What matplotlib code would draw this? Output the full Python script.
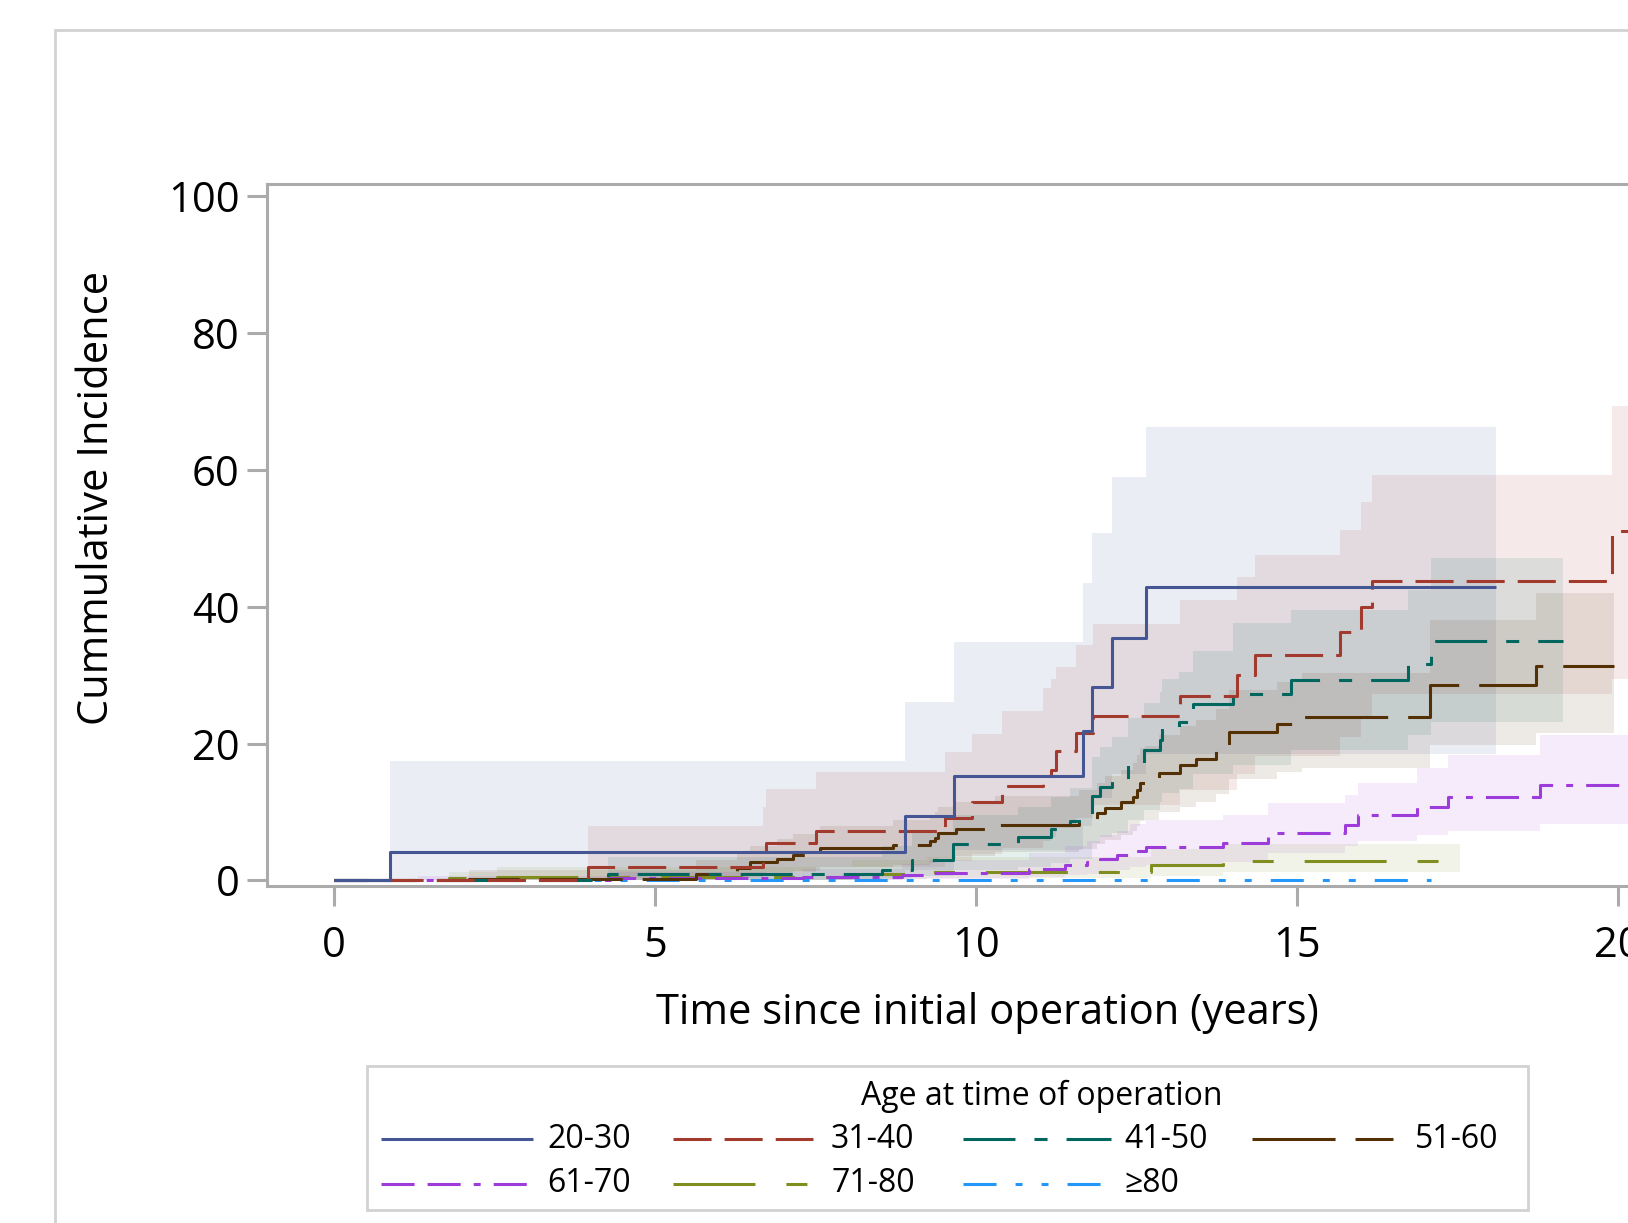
import numpy as np
import matplotlib
matplotlib.use("Agg")
import matplotlib.pyplot as plt
from matplotlib.lines import Line2D
from matplotlib.patches import Rectangle

W, H, DPI = 1628, 1223, 100

plt.rcParams["font.family"] = ["Open Sans", "DejaVu Sans"]
plt.rcParams["lines.scale_dashes"] = False

# ── data (years, cumulative incidence %) ─────────────────────────────────────
t_2030 = [0, 0.87, 8.89, 9.66, 11.66, 11.80, 12.11, 12.65]
v_2030 = [0, 4.1, 9.4, 15.3, 21.9, 28.3, 35.5, 42.9]
hi_2030 = [0, 17.5, 26.1, 34.9, 43.4, 50.8, 58.9, 66.2]
lo_2030 = [0, 0.1, 1.5, 4.5, 8.0, 12.0, 15.5, 18.5]
end_2030 = 18.09

t_3140 = [0, 3.95, 6.68, 6.73, 7.51, 9.51, 9.94, 10.40, 11.04, 11.17, 11.24,
          11.56, 11.82, 13.17, 14.06, 14.34, 15.67, 16.00, 16.17, 19.90]
v_3140 = [0, 1.9, 3.2, 5.5, 7.3, 9.2, 11.4, 13.8, 15.3, 16.2, 18.9,
          21.5, 24.1, 27.0, 30.0, 33.0, 36.3, 40.0, 43.7, 51.1]
hi_3140 = [0, 8.0, 10.8, 13.3, 15.9, 18.7, 21.4, 24.7, 28.1, 29.5, 31.2,
           34.4, 37.5, 41.0, 44.4, 47.6, 51.2, 55.3, 59.2, 69.3]
lo_3140 = [0, 0.3, 0.8, 1.2, 2.0, 2.8, 3.8, 4.8, 5.8, 6.4, 7.6,
           9.2, 11.0, 13.2, 15.6, 18.2, 21.0, 24.0, 27.3, 29.4]
end_3140 = 21.5

t_4150 = [0, 4.27, 8.54, 9.00, 9.64, 10.65, 11.17, 11.46, 11.80, 11.93, 12.12,
          12.36, 12.61, 12.86, 12.90, 13.16, 13.37, 14.00, 14.91, 16.72, 17.09]
v_4150 = [0, 0.9, 1.6, 3.0, 5.3, 6.4, 7.5, 8.7, 12.35, 13.6, 14.7,
          17.1, 19.0, 20.5, 22.4, 23.1, 25.8, 27.3, 29.3, 31.6, 35.0]
hi_4150 = [0, 3.5, 5.0, 7.0, 9.5, 10.8, 12.2, 13.5, 18.0, 19.5, 21.0,
           23.8, 26.0, 27.5, 29.5, 30.5, 33.5, 37.6, 39.5, 42.5, 47.1]
lo_4150 = [0, 0.1, 0.3, 0.7, 1.5, 2.0, 2.6, 3.2, 5.5, 6.3, 7.0,
           8.8, 10.3, 11.4, 12.8, 13.4, 15.5, 16.8, 19.1, 21.3, 23.2]
end_4150 = 19.14

t_5160 = [0, 2.10, 5.64, 6.27, 6.47, 6.90, 7.15, 7.56, 8.71, 9.28, 9.36, 9.41,
          9.69, 10.30, 11.60, 11.88, 12.00, 12.26, 12.45, 12.51, 12.55, 12.63,
          12.84, 13.17, 13.43, 13.74, 13.93, 14.68, 15.07, 17.07, 18.72]
v_5160 = [0, 0.2, 1.0, 1.8, 2.75, 3.2, 3.7, 4.7, 5.2, 5.7, 6.2, 6.9,
          7.5, 8.1, 8.9, 9.8, 10.55, 11.4, 12.25, 13.2, 14.2, 14.4,
          15.75, 16.8, 17.7, 19.1, 21.75, 22.9, 23.9, 28.6, 31.4]
hi_5160 = [0, 1.5, 3.0, 4.0, 5.0, 6.0, 6.8, 8.0, 8.8, 9.5, 10.0, 10.8,
           11.5, 12.3, 13.2, 14.3, 15.2, 16.2, 17.2, 18.3, 19.3, 19.6,
           21.2, 22.5, 23.5, 25.0, 27.8, 29.0, 30.3, 38.1, 42.0]
lo_5160 = [0, 0, 0.2, 0.5, 0.9, 1.1, 1.4, 2.0, 2.3, 2.6, 2.9, 3.3,
           3.6, 4.1, 4.6, 5.3, 5.9, 6.6, 7.3, 8.0, 8.7, 8.9,
           10.0, 10.8, 11.5, 12.7, 14.8, 15.8, 16.5, 19.8, 21.6]
end_5160 = 19.94

t_6170 = [0, 1.30, 4.30, 7.30, 8.84, 9.27, 10.82, 11.38, 11.72, 11.93, 12.19,
          12.39, 12.65, 13.85, 14.55, 15.74, 15.95, 16.86, 17.35, 18.78]
v_6170 = [0, 0.1, 0.3, 0.5, 0.8, 1.15, 1.7, 2.27, 2.65, 3.2, 3.7,
          4.35, 4.85, 5.5, 7.0, 8.1, 9.6, 10.8, 12.2, 13.95]
hi_6170 = [0, 0.6, 1.2, 1.7, 2.4, 3.0, 4.0, 5.0, 5.8, 6.6, 7.3,
           8.2, 8.9, 9.6, 11.3, 12.5, 14.3, 16.4, 18.3, 21.3]
lo_6170 = [0, 0, 0, 0.05, 0.15, 0.25, 0.5, 0.8, 1.0, 1.3, 1.6,
           2.0, 2.3, 2.7, 4.0, 5.0, 5.7, 6.6, 7.3, 8.3]
end_6170 = 21.5

t_7180 = [0, 1.79, 2.54, 8.06, 9.23, 12.73, 13.85]
v_7180 = [0, 0.3, 0.55, 1.0, 1.3, 2.3, 2.8]
hi_7180 = [0, 1.3, 2.0, 3.0, 3.4, 4.6, 5.4]
lo_7180 = [0, 0, 0.05, 0.2, 0.3, 0.7, 1.3]
end_7180 = 17.53

t_80 = [0]
v_80 = [0]
end_80 = 17.09

x_ticks = [0, 5, 10, 15, 20]
y_ticks = [0, 20, 40, 60, 80, 100]

# ── styles (SAS HTMLBlue palette, dash lengths in points) ─────────────────────
SERIES = [
    ("20-30", t_2030, v_2030, lo_2030, hi_2030, end_2030, "#445694", None),
    ("31-40", t_3140, v_3140, lo_3140, hi_3140, end_3140, "#A23A2E", (27.4, 9.4)),
    ("41-50", t_4150, v_4150, lo_4150, hi_4150, end_4150, "#01665E", (37.4, 13.7, 9.4, 13.7)),
    ("51-60", t_5160, v_5160, lo_5160, hi_5160, end_5160, "#543005", (59.8, 14.4)),
    ("61-70", t_6170, v_6170, lo_6170, hi_6170, end_6170, "#9D3CDB", (23.8, 9.4, 23.8, 9.4, 5.0, 9.4)),
    ("71-80", t_7180, v_7180, lo_7180, hi_7180, end_7180, "#7F8E1F", (59.0, 22.3, 15.1, 22.3)),
    ("\u226580", t_80, v_80, None, None, end_80, "#2597FA", (23.8, 13.7, 5.0, 13.7, 5.0, 13.7)),
]
LW = 2.2
AXIS_GRAY = "#ababab"
FRAME_GRAY = "#d2d2d2"
FS_AXIS = 30
FS_LEGEND = 23


def fx(px):
    return px / W


def fy(py):
    return 1 - py / H


def line_kw(color, dash):
    kw = dict(color=color, lw=LW, solid_capstyle="butt", dash_capstyle="butt")
    if dash is not None:
        kw["dashes"] = dash
    return kw


fig = plt.figure(figsize=(W / DPI, H / DPI), dpi=DPI)

# outer graph border (runs off the right and bottom edges)
fig.add_artist(Rectangle((fx(55), fy(1400)), fx(1900 - 55), fy(30) - fy(1400),
                         transform=fig.transFigure, fill=False,
                         ec=FRAME_GRAY, lw=2.0))

ax = fig.add_axes([fx(266.8), fy(885.6), (1714.5 - 266.8) / W, (885.6 - 183.8) / H])
ax.set_xlim(-1.05, 21.5)
ax.set_ylim(-0.75, 101.8)

# confidence bands first, then the step curves on top
for name, t, v, lo, hi, end, color, dash in SERIES:
    if lo is None:
        continue
    xs = np.append(t, end)
    ax.fill_between(xs, np.append(lo, lo[-1]), np.append(hi, hi[-1]),
                    step="post", color=color, alpha=0.1, lw=0)

for name, t, v, lo, hi, end, color, dash in reversed(SERIES):
    xs = np.append(t, end)
    ys = np.append(v, v[-1])
    ax.step(xs, ys, where="post", **line_kw(color, dash))

ax.set_xticks(x_ticks)
ax.set_yticks(y_ticks)
for sp in ax.spines.values():
    sp.set_color(AXIS_GRAY)
    sp.set_linewidth(2.2)
ax.tick_params(axis="both", colors=AXIS_GRAY, labelcolor="black",
               length=14.4, width=2.2, labelsize=FS_AXIS)
ax.tick_params(axis="y", pad=5)
ax.tick_params(axis="x", pad=14)

ax.set_xlabel("Time since initial operation (years)", fontsize=FS_AXIS, va="center")
ax.xaxis.set_label_coords(0.4975, -0.181)
ax.set_ylabel("Cummulative Incidence", fontsize=FS_AXIS, va="center")
ax.yaxis.set_label_coords(-0.117, 0.553)

# ── legend box (drawn by hand to match the SAS layout) ───────────────────────
fig.add_artist(Rectangle((fx(366.5), fy(1209.5)), fx(1528 - 366.5), fy(1066) - fy(1209.5),
                         transform=fig.transFigure, fill=False, ec=FRAME_GRAY, lw=2.0))
fig.text(fx(1042), fy(1096), "Age at time of operation", fontsize=FS_LEGEND,
         ha="center", va="center")

col_x = [(381, 533, 547), (673, 813, 831), (962.5, 1111, 1124.5), (1252, 1393, 1415)]
row_y = [1139, 1183.6]
slots = [(0, 0), (0, 1), (0, 2), (0, 3), (1, 0), (1, 1), (1, 2)]
for (row, col), (name, t, v, lo, hi, end, color, dash) in zip(slots, SERIES):
    x0, x1, xt = col_x[col]
    y = row_y[row]
    fig.add_artist(Line2D([fx(x0), fx(x1)], [fy(y), fy(y)], transform=fig.transFigure,
                          **line_kw(color, dash)))
    fig.text(fx(xt), fy(y), name, fontsize=FS_LEGEND, ha="left", va="center")

fig.savefig("out.png", dpi=DPI)
